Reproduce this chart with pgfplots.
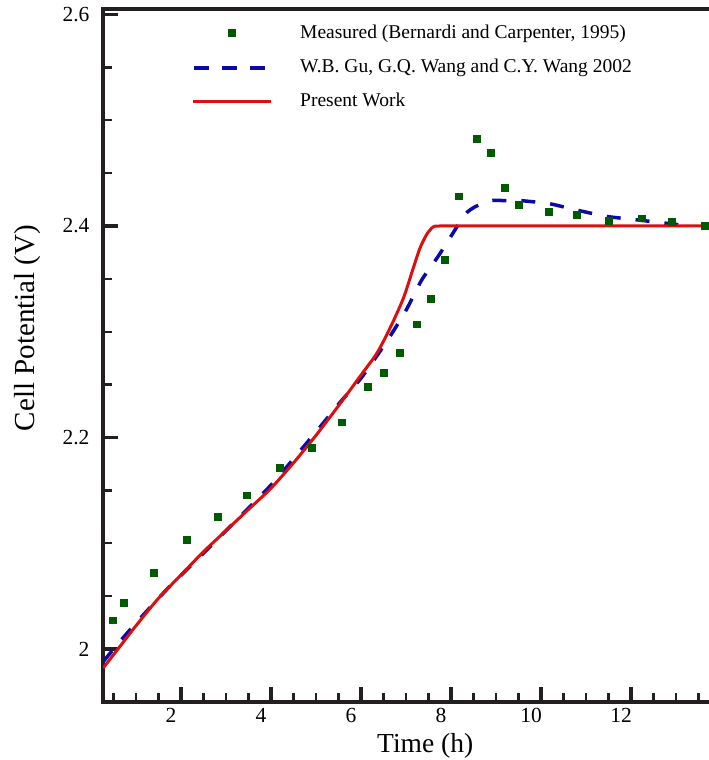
\documentclass[border=0pt]{standalone}
\usepackage{fontspec}
\setmainfont{Liberation Serif}
\usepackage{pgfplots}
\pgfplotsset{compat=1.18}
\definecolor{mgreen}{RGB}{0,90,0}
\definecolor{gblue}{RGB}{10,10,170}
\definecolor{pred}{RGB}{220,15,15}
\definecolor{axc}{RGB}{35,31,32}
\pgfplotsset{
  marklegend/.style={legend image code/.code={\path[draw=none,fill=none] (0pt,1.5pt) -- (78pt,1.5pt); \draw[##1, draw=none] plot coordinates {(39pt,1.5pt)};}},
  dashlegend/.style={legend image code/.code={\path[draw=none,fill=none] (0pt,1.5pt) -- (78pt,1.5pt); \draw[##1] (1pt,0pt) -- (72pt,0pt);}},
  linelegend/.style={legend image code/.code={\draw[##1] (0pt,1pt) -- (78pt,1pt);}},
}
\begin{document}
\begin{tikzpicture}
\useasboundingbox (0,0) rectangle (709pt,760pt);
\begin{axis}[
  at={(103pt,58pt)}, anchor=south west,
  scale only axis, width=609pt, height=693pt,
  xmin=0.267, xmax=13.8, ymin=1.9499, ymax=2.6052,
  xtick={2,4,...,12}, ytick={2,2.2,2.4,2.6},
  minor xtick={0.5,1,...,13.5},
  minor ytick={2.05,2.1,...,2.56},
  tick pos=left, tick align=inside,
  major tick length=15pt, minor tick length=8.5pt,
  major tick style={line width=3.5pt, axc},
  minor tick style={line width=2.3pt, axc},
  axis line style={line width=4pt, axc},
  /pgf/number format/assume math mode=true,
  ticklabel style={font=\fontsize{21.5}{24}\selectfont},
  xticklabel style={xshift=-10pt, yshift=-3pt},
  yticklabel style={xshift=-10pt},
  xlabel={Time (h)},
  ylabel={Cell Potential (V)},
  xlabel style={font=\fontsize{27.5}{30}\selectfont, at={(axis description cs:0.529,-0.0722)}, anchor=base},
  ylabel style={font=\fontsize{29}{32}\selectfont, at={(axis description cs:-0.1133,0.5397)}, anchor=base},
  legend style={at={(axis description cs:0.1445,0.9776)}, anchor=north west,
    draw=none, fill=none, inner sep=0pt, row sep=15pt,
    font=\fontsize{19.5}{22}\selectfont,
    nodes={inner sep=0pt, text height=14pt, text depth=5pt},
    /tikz/every odd column/.style={column sep=28pt}},
  legend cell align=left,
]
\addlegendimage{mgreen, mark=square*, mark size=3.3pt, mark options={fill=mgreen, draw=mgreen, line width=0pt}, marklegend}
\addlegendentry{Measured (Bernardi and Carpenter, 1995)}
\addlegendimage{gblue, line width=3.5pt, dash pattern=on 15pt off 13pt, line cap=butt, dashlegend}
\addlegendentry{W.B. Gu, G.Q. Wang and C.Y. Wang 2002}
\addlegendimage{pred, line width=3pt, line cap=butt, linelegend}
\addlegendentry{Present Work}

% Gu, Wang and Wang 2002
\addplot[forget plot, gblue, line width=3.5pt, dash pattern=on 14pt off 15pt, smooth, tension=0.4] coordinates {
(0.27,1.988) (0.7,2.010) (1.2,2.034) (1.7,2.057) (2.2,2.078) (3.0,2.112)
(4.0,2.155) (4.7,2.190) (5.13,2.212) (5.53,2.233) (5.98,2.255) (6.35,2.277)
(6.68,2.298) (7.01,2.321) (7.35,2.349) (7.71,2.371) (8.04,2.393) (8.31,2.411)
(8.53,2.418) (8.87,2.424) (9.2,2.424) (9.53,2.424) (9.8,2.423) (10.2,2.421)
(10.8,2.415) (11.47,2.409) (12.09,2.406) (12.7,2.403) (13.1,2.401)
};
% Present work
\addplot[forget plot, pred, line width=3pt, smooth, tension=0.45] coordinates {
(0.27,1.982) (0.6,2.000) (1.0,2.022) (1.5,2.048) (2.0,2.070) (2.5,2.092)
(3.0,2.112) (3.5,2.132) (4.0,2.152) (4.5,2.176) (5.0,2.202) (5.5,2.230)
(6.0,2.259) (6.35,2.2795) (6.64,2.303) (6.94,2.3315) (7.16,2.360) (7.31,2.379)
(7.46,2.392) (7.6,2.399) (7.75,2.400) (8.5,2.400) (13.8,2.400)
};
% Measured
\addplot[forget plot, only marks, mark=square*, mark size=3.3pt, mark options={fill=mgreen, draw=mgreen, line width=0pt}] coordinates {
(0.49,2.027) (0.73,2.0435) (1.40,2.072) (2.13,2.103) (2.82,2.125) (3.47,2.145)
(4.20,2.171) (4.91,2.190) (5.58,2.214) (6.16,2.248) (6.51,2.261) (6.87,2.280)
(7.24,2.307) (7.55,2.331) (7.87,2.368) (8.18,2.428) (8.58,2.482) (8.89,2.469)
(9.20,2.436) (9.51,2.420) (10.18,2.413) (10.80,2.4105) (11.51,2.405) (12.24,2.407)
(12.91,2.404) (13.64,2.400)
};
\end{axis}
\end{tikzpicture}
\end{document}
